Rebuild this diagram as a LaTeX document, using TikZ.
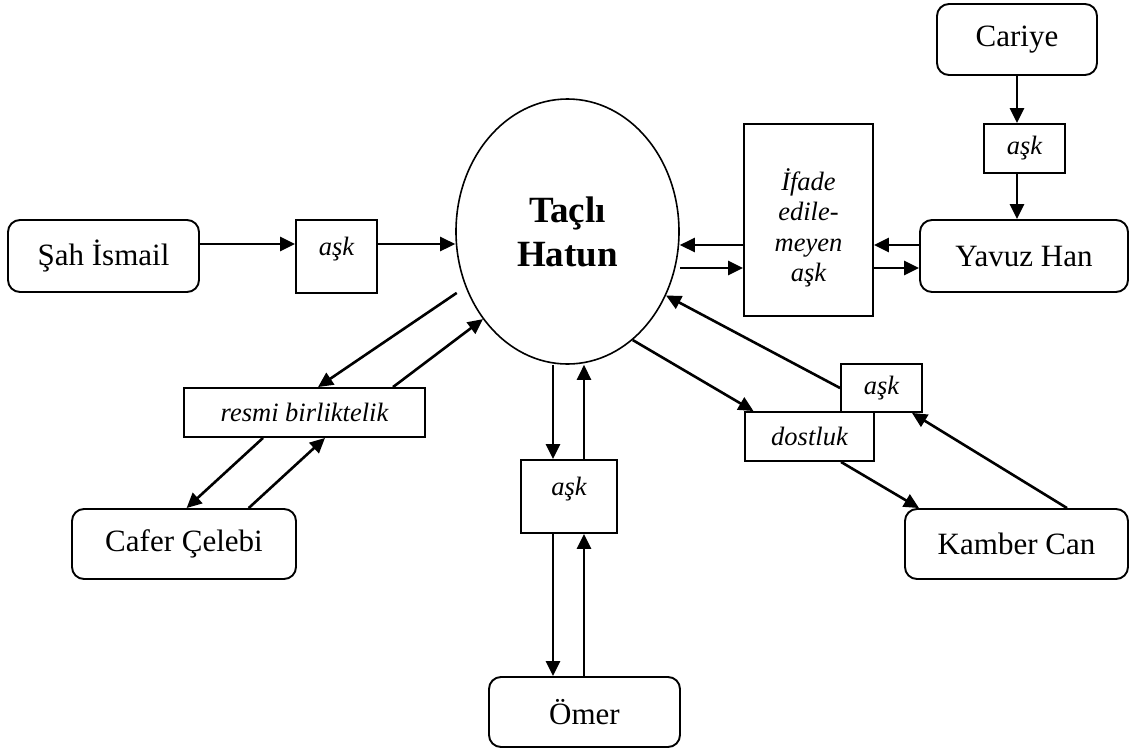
\documentclass[tikz,border=0pt]{standalone}
\usepackage{fontspec}
\setmainfont{Liberation Serif}
\usetikzlibrary{arrows.meta,shapes.geometric}
\begin{document}
\begin{tikzpicture}[x=1pt,y=-1pt,
  rbox/.style={draw, line width=1.9pt, rounded corners=12pt, inner sep=0pt, font=\fontsize{31}{36}\selectfont},
  sbox/.style={draw, line width=1.9pt, inner sep=0pt, font=\fontsize{26.5}{30.5}\selectfont\itshape},
  lbl/.style={inner sep=0pt, font=\fontsize{26.5}{30.5}\selectfont\itshape, align=center},
  arr/.style={line width=2.6pt, -{Triangle[length=15pt,width=14pt]}},
  ]
\useasboundingbox (0,0) rectangle (1133,753);

% central ellipse
\node[ellipse, draw, line width=1.6pt, minimum width=223pt, minimum height=265pt, inner sep=0pt,
      font=\fontsize{37}{44}\selectfont\bfseries, align=center] (tac) at (567.5,231.5) {Taçlı\\Hatun};

% rounded person boxes
\node[rbox, minimum width=191pt, minimum height=72pt] (shah) at (103.5,256) {Şah İsmail};
\node[rbox, minimum width=160pt, minimum height=71pt] (cariye) at (1017,39.5) {Cariye};
\node[rbox, minimum width=208pt, minimum height=72pt] (yav) at (1024,256) {Yavuz Han};
\node[rbox, minimum width=224pt, minimum height=70pt] (cafer) at (184,544) {Cafer Çelebi};
\node[rbox, minimum width=223pt, minimum height=70pt] (kamber) at (1016.5,544) {Kamber Can};
\node[rbox, minimum width=191pt, minimum height=70pt] (omer) at (584.5,712) {Ömer};

% relation boxes
\node[sbox, minimum width=81pt, minimum height=73pt] (askL) at (336.5,256.5) {};
\node[lbl] (askLt) at ([yshift=7pt]askL.center) {aşk};
\node[sbox, minimum width=129pt, minimum height=192pt] (ifade) at (808.5,220) {};
\node[lbl] (ifadet) at ([yshift=-8pt]ifade.center) {İfade\\edile-\\meyen\\aşk};
\node[sbox, minimum width=81pt, minimum height=49pt] (askR) at (1024.5,148.5) {aşk};
\node[sbox, minimum width=241pt, minimum height=49pt] (resmi) at (304.5,412.5) {resmi birliktelik};
\node[sbox, minimum width=96pt, minimum height=73pt] (askB) at (569,496.5) {};
\node[lbl] (askBt) at ([yshift=7pt]askB.center) {aşk};
\node[sbox, minimum width=129pt, minimum height=49pt] (dost) at (809.5,436.5) {dostluk};
\node[sbox, minimum width=81pt, minimum height=48pt] (askK) at (881.5,388) {aşk};

% Şah İsmail
\coordinate (s1) at ([yshift=12pt]shah.east);
\draw[arr] (s1) -- (s1 -| askL.west);
\coordinate (s2) at (s1 -| askL.east);
\draw[arr] (s2) -- (s2 -| tac.west);

% Yavuz Han / ifade
\coordinate (r1) at ([yshift=-25pt]ifade.east);
\draw[arr] (r1 -| yav.west) -- (r1);
\coordinate (r2) at ([yshift=-25pt]ifade.west);
\draw[arr] (r2) -- (r2 -| tac.east);
\coordinate (r3) at ([yshift=-48pt]ifade.west);
\draw[arr] (r3 -| tac.east) -- (r3);
\coordinate (r4) at ([yshift=-48pt]ifade.east);
\draw[arr] (r4) -- (r4 -| yav.west);

% Cariye
\draw[arr] (cariye.south) -- (cariye.south |- askR.north);
\draw[arr] (cariye.south |- askR.south) -- (cariye.south |- yav.north);

% Cafer Çelebi
\draw[arr] ([shift={(-9,5)}]tac.209) -- ([xshift=13.5pt]resmi.north);
\draw[arr] ([xshift=88.5pt]resmi.north) -- (tac.226.7);
\draw[arr] ([xshift=-41.5pt]resmi.south) -- ([xshift=2.6pt]cafer.north);
\draw[arr] ([xshift=64.7pt]cafer.north) -- ([xshift=20.5pt]resmi.south);

% Ömer
\coordinate (b1) at ([xshift=-16pt]askB.north);
\draw[arr] (b1 |- tac.south) -- (b1);
\coordinate (b2) at ([xshift=15pt]askB.north);
\draw[arr] (b2) -- (b2 |- tac.south);
\coordinate (b3) at ([xshift=-16pt]askB.south);
\draw[arr] (b3) -- (b3 |- omer.north);
\coordinate (b4) at ([xshift=15pt]askB.south);
\draw[arr] (b4 |- omer.north) -- (b4);

% Kamber Can
\draw[arr] (tac.301) -- ([xshift=-56pt]dost.north);
\draw[arr] ([xshift=31.5pt]dost.south) -- ([xshift=-97.5pt]kamber.north);
\draw[arr] ([xshift=50.5pt]kamber.north) -- ([xshift=30.5pt]askK.south);
\draw[arr] (askK.west) -- (tac.327.7);
\end{tikzpicture}
\end{document}
